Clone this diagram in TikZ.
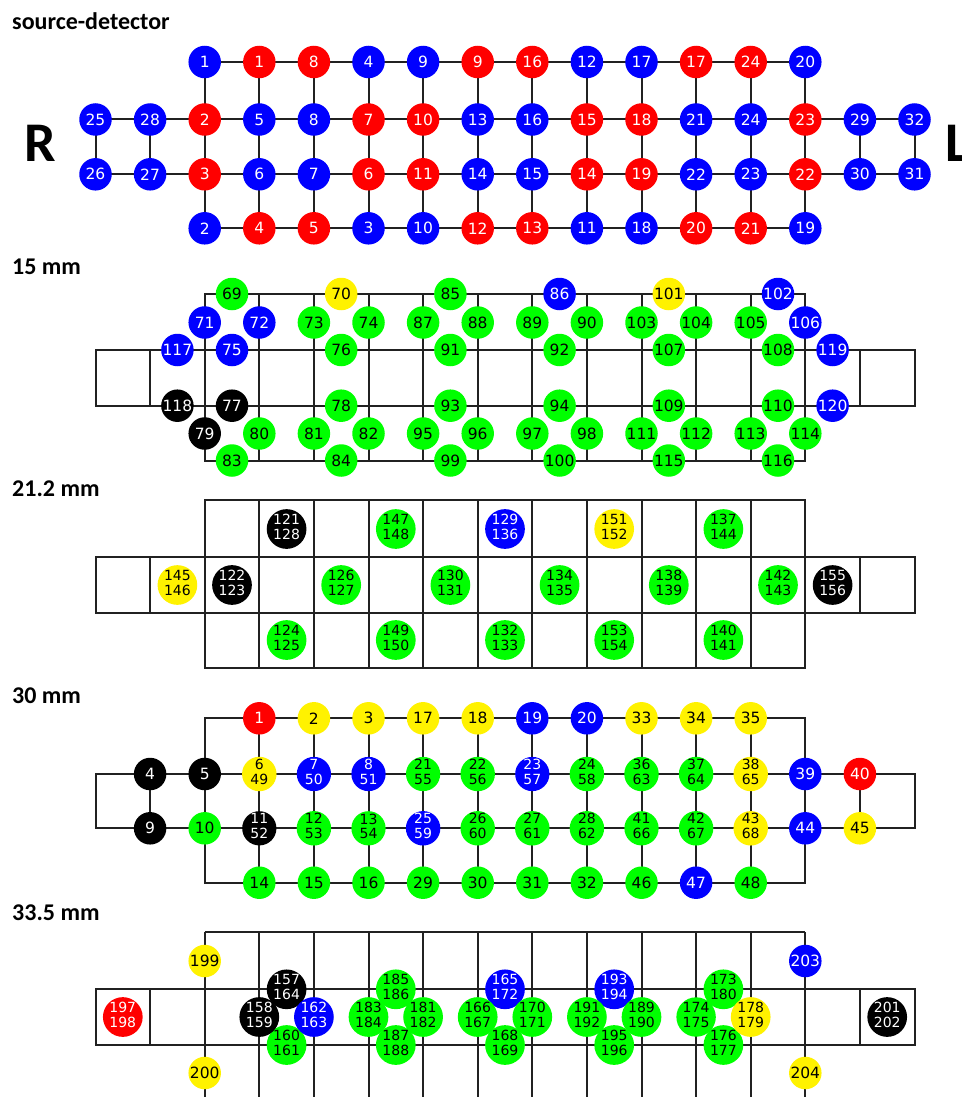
\documentclass[tikz,border=0pt]{standalone}
\usepackage{fontspec}
\usetikzlibrary{backgrounds}
\newfontfamily\numfont{DejaVu Sans}
\newfontfamily\headfont{Carlito}
\colorlet{fB}{blue}   \colorlet{tB}{white}
\colorlet{fR}{red}    \colorlet{tR}{white}
\colorlet{fG}{green}  \colorlet{tG}{black}
\colorlet{fY}{yellow} \colorlet{tY}{black}
\colorlet{fK}{black}  \colorlet{tK}{white}
\definecolor{linecol}{gray}{0.13}
% column positions of the probe grid
\newcommand\colx[1]{(95.5+54.6*(#1))}
\newcommand\colm[1]{(122.8+54.6*(#1))}
% two channel numbers stacked in one disc
\newcommand\twonum[2]{\fontsize{14}{14.5}\selectfont\begin{tabular}{@{}c@{}}#1\\#2\end{tabular}}
\tikzset{
  dot/.style={circle, inner sep=0pt, minimum size=32.5pt, font=\numfont\fontsize{15.5}{15.5}\selectfont},
  wire/.style={draw=linecol, line width=2pt},
  grid/.style={draw=linecol, line width=2pt, line join=miter},
  head/.style={anchor=base west, inner sep=0pt, font=\headfont\bfseries\fontsize{24}{24}\selectfont},
  side/.style={anchor=base west, inner sep=0pt, font=\headfont\bfseries\fontsize{56}{56}\selectfont},
}
\begin{document}
\begin{tikzpicture}[x=1pt,y=-1pt]
\begin{pgfonlayer}{background}
  \fill[white] (0,0) rectangle (961,1097);
\end{pgfonlayer}
\useasboundingbox (0,0) rectangle (961,1097);

% headings
\node[head] (h1) at (12,29.5) {source-detector};
\node[head] (h2) at (12,274.5) {15 mm};
\node[head] (h3) at (12,496.5) {21.2 mm};
\node[head] (h4) at (12,703.5) {30 mm};
\node[head] (h5) at (12,920.5) {33.5 mm};
\node[side] (sR) at (24,161.5) {R};
\node[side] (sL) at (945.5,161.5) {L};

% ---------- source-detector layout ----------
\foreach \k/\cl/\lb in {2/B/1,3/R/1,4/R/8,5/B/4,6/B/9,7/R/9,8/R/16,9/B/12,10/B/17,11/R/17,12/R/24,13/B/20}
  \node[dot,fill=f\cl,text=t\cl] (a-1-\k) at ({\colx{\k}},62) {\lb};
\foreach \k/\cl/\lb in {0/B/25,1/B/28,2/R/2,3/B/5,4/B/8,5/R/7,6/R/10,7/B/13,8/B/16,9/R/15,10/R/18,11/B/21,12/B/24,13/R/23,14/B/29,15/B/32}
  \node[dot,fill=f\cl,text=t\cl] (a-2-\k) at ({\colx{\k}},119.5) {\lb};
\foreach \k/\cl/\lb in {0/B/26,1/B/27,2/R/3,3/B/6,4/B/7,5/R/6,6/R/11,7/B/14,8/B/15,9/R/14,10/R/19,11/B/22,12/B/23,13/R/22,14/B/30,15/B/31}
  \node[dot,fill=f\cl,text=t\cl] (a-3-\k) at ({\colx{\k}},174.3) {\lb};
\foreach \k/\cl/\lb in {2/B/2,3/R/4,4/R/5,5/B/3,6/B/10,7/R/12,8/R/13,9/B/11,10/B/18,11/R/20,12/R/21,13/B/19}
  \node[dot,fill=f\cl,text=t\cl] (a-4-\k) at ({\colx{\k}},228.3) {\lb};

% ---------- 30 mm layout ----------
\coordinate (d-1-2) at ({\colx{2}},718.3);
\coordinate (d-1-13) at ({\colx{13}},718.3);
\coordinate (d-4-2) at ({\colx{2}},882.7);
\coordinate (d-4-13) at ({\colx{13}},882.7);
\coordinate (d-2-0) at ({\colx{0}},774);
\coordinate (d-3-0) at ({\colx{0}},828.3);
\coordinate (d-2-15) at ({\colx{15}},774);
\coordinate (d-3-15) at ({\colx{15}},828.3);
\foreach \k/\cl/\lb in {3/R/1,4/Y/2,5/Y/3,6/Y/17,7/Y/18,8/B/19,9/B/20,10/Y/33,11/Y/34,12/Y/35}
  \node[dot,fill=f\cl,text=t\cl] (d-1-\k) at ({\colx{\k}},718.3) {\lb};
\foreach \k/\cl/\lb in {1/K/4,2/K/5,13/B/39,14/R/40}
  \node[dot,fill=f\cl,text=t\cl] (d-2-\k) at ({\colx{\k}},774) {\lb};
\foreach \k/\cl/\u/\v in {3/Y/6/49,4/B/7/50,5/B/8/51,6/G/21/55,7/G/22/56,8/B/23/57,9/G/24/58,10/G/36/63,11/G/37/64,12/Y/38/65}
  \node[dot,fill=f\cl,text=t\cl] (d-2-\k) at ({\colx{\k}},774) {\twonum{\u}{\v}};
\foreach \k/\cl/\lb in {1/K/9,2/G/10,13/B/44,14/Y/45}
  \node[dot,fill=f\cl,text=t\cl] (d-3-\k) at ({\colx{\k}},828.3) {\lb};
\foreach \k/\cl/\u/\v in {3/K/11/52,4/G/12/53,5/G/13/54,6/B/25/59,7/G/26/60,8/G/27/61,9/G/28/62,10/G/41/66,11/G/42/67,12/Y/43/68}
  \node[dot,fill=f\cl,text=t\cl] (d-3-\k) at ({\colx{\k}},828.3) {\twonum{\u}{\v}};
\foreach \k/\cl/\lb in {3/G/14,4/G/15,5/G/16,6/G/29,7/G/30,8/G/31,9/G/32,10/G/46,11/B/47,12/G/48}
  \node[dot,fill=f\cl,text=t\cl] (d-4-\k) at ({\colx{\k}},882.7) {\lb};

% connectors of both node grids
\begin{pgfonlayer}{background}
\foreach \p in {a,d}{
  \foreach \k in {2,...,12}{
    \pgfmathtruncatemacro\n{\k+1}
    \draw[wire] (\p-1-\k.center) -- (\p-1-\n.center);
    \draw[wire] (\p-4-\k.center) -- (\p-4-\n.center);
  }
  \foreach \k in {0,...,14}{
    \pgfmathtruncatemacro\n{\k+1}
    \draw[wire] (\p-2-\k.center) -- (\p-2-\n.center);
    \draw[wire] (\p-3-\k.center) -- (\p-3-\n.center);
  }
  \foreach \k in {2,...,13}{
    \draw[wire] (\p-1-\k.center) -- (\p-4-\k.center);
  }
  \foreach \k in {0,1,14,15}{
    \draw[wire] (\p-2-\k.center) -- (\p-3-\k.center);
  }
}
\draw[wire, line cap=rect] (d-1-2) -- (d-1-3.center) (d-1-13) -- (d-1-12.center)
  (d-4-2) -- (d-4-3.center) (d-4-13) -- (d-4-12.center)
  (d-2-0) -- (d-3-0) (d-2-15) -- (d-3-15);
\end{pgfonlayer}

% ---------- 15 mm layout ----------
\draw[grid] ({\colx{2}},293.5) rectangle ({\colx{13}},460.5);
\draw[grid] ({\colx{0}},350) rectangle ({\colx{15}},405.7);
\foreach \k in {3,...,12} \draw[grid] ({\colx{\k}},293.5) -- ({\colx{\k}},460.5);
\foreach \k in {1,14} \draw[grid] ({\colx{\k}},350) -- ({\colx{\k}},405.7);

\foreach \k/\cl/\lb in {2/G/69,4/Y/70,6/G/85,8/B/86,10/Y/101,12/B/102}
  \node[dot,fill=f\cl,text=t\cl] (b\lb) at ({\colm{\k}},294) {\lb};
\foreach \k/\cl/\lb in {2/B/71,3/B/72,4/G/73,5/G/74,6/G/87,7/G/88,8/G/89,9/G/90,10/G/103,11/G/104,12/G/105,13/B/106}
  \node[dot,fill=f\cl,text=t\cl] (b\lb) at ({\colx{\k}},322.5) {\lb};
\foreach \k/\cl/\lb in {1/B/117,2/B/75,4/G/76,6/G/91,8/G/92,10/G/107,12/G/108,13/B/119}
  \node[dot,fill=f\cl,text=t\cl] (b\lb) at ({\colm{\k}},350) {\lb};
\foreach \k/\cl/\lb in {1/K/118,2/K/77,4/G/78,6/G/93,8/G/94,10/G/109,12/G/110,13/B/120}
  \node[dot,fill=f\cl,text=t\cl] (b\lb) at ({\colm{\k}},405.7) {\lb};
\foreach \k/\cl/\lb in {2/K/79,3/G/80,4/G/81,5/G/82,6/G/95,7/G/96,8/G/97,9/G/98,10/G/111,11/G/112,12/G/113,13/G/114}
  \node[dot,fill=f\cl,text=t\cl] (b\lb) at ({\colx{\k}},433.5) {\lb};
\foreach \k/\cl/\lb in {2/G/83,4/G/84,6/G/99,8/G/100,10/G/115,12/G/116}
  \node[dot,fill=f\cl,text=t\cl] (b\lb) at ({\colm{\k}},460.5) {\lb};

% ---------- 21.2 mm layout ----------
\draw[grid] ({\colx{2}},500) rectangle ({\colx{13}},667.7);
\draw[grid] ({\colx{0}},557.3) rectangle ({\colx{15}},612.7);
\foreach \k in {3,...,12} \draw[grid] ({\colx{\k}},500) -- ({\colx{\k}},667.7);
\foreach \k in {1,14} \draw[grid] ({\colx{\k}},557.3) -- ({\colx{\k}},612.7);

\foreach \k/\cl/\u/\v in {3/K/121/128,5/G/147/148,7/B/129/136,9/Y/151/152,11/G/137/144}
  \node[dot,fill=f\cl,text=t\cl] (c\u) at ({\colm{\k}},529) {\twonum{\u}{\v}};
\foreach \k/\cl/\u/\v in {1/Y/145/146,2/K/122/123,4/G/126/127,6/G/130/131,8/G/134/135,10/G/138/139,12/G/142/143,13/K/155/156}
  \node[dot,fill=f\cl,text=t\cl] (c\u) at ({\colm{\k}},585) {\twonum{\u}{\v}};
\foreach \k/\cl/\u/\v in {3/G/124/125,5/G/149/150,7/G/132/133,9/G/153/154,11/G/140/141}
  \node[dot,fill=f\cl,text=t\cl] (c\u) at ({\colm{\k}},640) {\twonum{\u}{\v}};

% ---------- 33.5 mm layout ----------
\draw[grid] ({\colx{2}},932.3) -- ({\colx{13}},932.3);
\draw[grid] ({\colx{0}},989.3) rectangle ({\colx{15}},1045);
\foreach \k in {2,...,13} \draw[grid] ({\colx{\k}},932.3) -- ({\colx{\k}},1102);
\foreach \k in {1,14} \draw[grid] ({\colx{\k}},989.3) -- ({\colx{\k}},1045);

\foreach \k/\y/\cl/\lb in {2/961/Y/199,2/1073/Y/200,13/961/B/203,13/1073/Y/204}
  \node[dot,fill=f\cl,text=t\cl] (e\lb) at ({\colx{\k}},\y) {\lb};
\foreach \k/\y/\cl/\u/\v in {0/1017/R/197/198,3/989.3/K/157/164,3/1045/G/160/161,5/989.3/G/185/186,5/1045/G/187/188,7/989.3/B/165/172,7/1045/G/168/169,9/989.3/B/193/194,9/1045/G/195/196,11/989.3/G/173/180,11/1045/G/176/177,14/1017/K/201/202}
  \node[dot,fill=f\cl,text=t\cl] (e\u) at ({\colm{\k}},\y) {\twonum{\u}{\v}};
\foreach \k/\cl/\u/\v in {3/K/158/159,4/B/162/163,5/G/183/184,6/G/181/182,7/G/166/167,8/G/170/171,9/G/191/192,10/G/189/190,11/G/174/175,12/Y/178/179}
  \node[dot,fill=f\cl,text=t\cl] (e\u) at ({\colx{\k}},1017) {\twonum{\u}{\v}};
\end{tikzpicture}
\end{document}
